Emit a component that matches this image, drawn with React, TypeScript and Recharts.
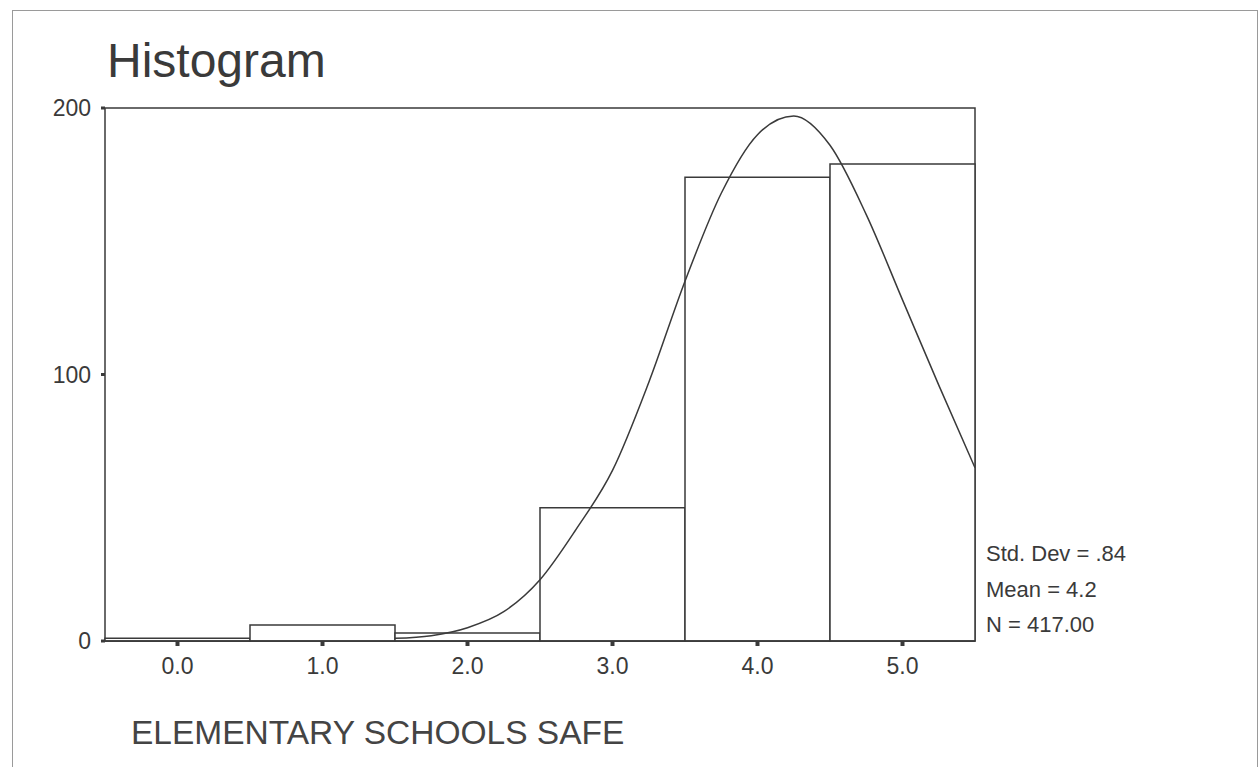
import React from "react";
import {
  ComposedChart,
  Bar,
  Line,
  XAxis,
  YAxis,
  ReferenceArea,
} from "recharts";

// histogram bins (midpoints) and counts
const bins = ["0.0", "1.0", "2.0", "3.0", "4.0", "5.0"];
const counts = [1, 6, 3, 50, 174, 179];

// normal curve
const curveX = [1.5, 1.75, 2.0, 2.25, 2.5, 2.75, 3.0, 3.25, 3.5, 3.75, 4.0, 4.25, 4.5, 4.75, 5.0, 5.25, 5.5];
const curveY = [1, 2, 5, 11, 23, 42, 64, 97, 135, 168, 190, 197, 186, 160, 128, 96, 65];

const xTicks = [0, 1, 2, 3, 4, 5];
const yTicks = [0, 100, 200];

const stats = ["Std. Dev = .84", "Mean = 4.2", "N = 417.00"];

const barData = bins.map((b, i) => ({ bin: b, count: counts[i] }));
const curveData = curveX.map((x, i) => ({ x, y: curveY[i] }));

const ink = "#3a3a3a";
const font = "'Liberation Sans', Arial, sans-serif";

export default function App() {
  return (
    <div
      style={{
        position: "fixed",
        left: 0,
        top: 0,
        width: 1260,
        height: 767,
        background: "#fff",
        fontFamily: font,
        overflow: "hidden",
      }}
    >
      <div
        style={{
          position: "absolute",
          left: 12,
          top: 10,
          width: 1244,
          height: 800,
          border: "1.5px solid #9a9a9a",
        }}
      />
      <div style={{ position: "absolute", left: 107, top: 33, fontSize: 48, color: ink }}>
        Histogram
      </div>
      <div style={{ position: "absolute", left: 131, top: 714, fontSize: 33.5, color: "#444" }}>
        ELEMENTARY SCHOOLS SAFE
      </div>
      <div style={{ position: "absolute", left: 986, top: 536, fontSize: 22, color: ink, lineHeight: "35.5px" }}>
        {stats.map((s) => (
          <div key={s}>{s}</div>
        ))}
      </div>
      <ComposedChart
        width={1260}
        height={767}
        data={barData}
        margin={{ top: 108, right: 285, bottom: 86, left: 0 }}
        barCategoryGap={0}
        style={{ position: "absolute", left: 0, top: 0 }}
      >
        <XAxis xAxisId="cat" dataKey="bin" hide height={0} />
        <XAxis
          xAxisId="num"
          type="number"
          dataKey="x"
          domain={[-0.5, 5.5]}
          ticks={xTicks}
          tickFormatter={(v: number) => v.toFixed(1)}
          height={40}
          tickSize={5}
          tickLine={{ stroke: ink, strokeWidth: 4 }}
          axisLine={{ stroke: ink, strokeWidth: 1.5 }}
          tick={{ fill: ink, fontSize: 23, fontFamily: font, dy: 10 }}
          allowDataOverflow
        />
        <YAxis
          domain={[0, 200]}
          ticks={yTicks}
          width={105}
          axisLine={false}
          tickSize={4}
          tickLine={{ stroke: ink, strokeWidth: 3 }}
          tick={{ fill: ink, fontSize: 23, fontFamily: font, dx: -8 }}
        />
        <Bar
          xAxisId="cat"
          dataKey="count"
          fill="#fff"
          stroke={ink}
          strokeWidth={1.5}
          isAnimationActive={false}
        />
        <ReferenceArea
          xAxisId="num"
          x1={-0.5}
          x2={5.5}
          y1={0}
          y2={200}
          fill="none"
          stroke={ink}
          strokeWidth={1.5}
          ifOverflow="visible"
        />
        <Line
          xAxisId="num"
          data={curveData}
          dataKey="y"
          type="monotone"
          stroke={ink}
          strokeWidth={1.5}
          dot={false}
          isAnimationActive={false}
        />
      </ComposedChart>
    </div>
  );
}
